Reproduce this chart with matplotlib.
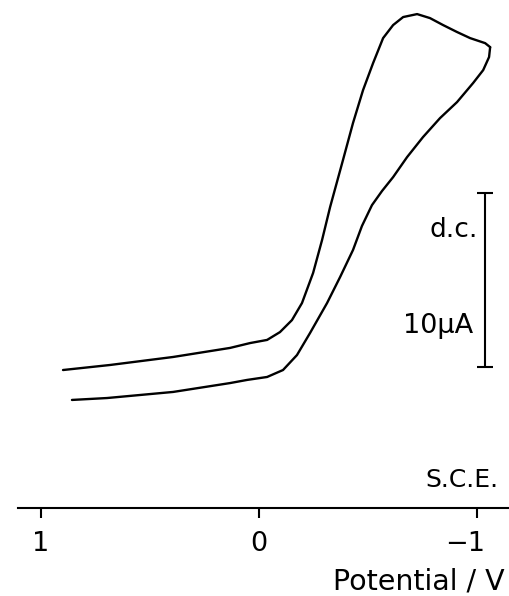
import matplotlib
matplotlib.use("Agg")
import matplotlib.pyplot as plt
import matplotlib.transforms as mtransforms

# cyclic voltammogram (d.c.), potential in V vs S.C.E., current in uA
fwd_potential = [0.899, 0.683, 0.394, 0.133, 0.041, -0.037, -0.096, -0.151,
                 -0.197, -0.248, -0.289, -0.326, -0.385, -0.431, -0.477,
                 -0.523, -0.569, -0.615, -0.661, -0.725, -0.784, -0.844,
                 -0.908, -0.968, -1.037, -1.060]
fwd_current = [7.93, 8.22, 8.68, 9.20, 9.48, 9.66, 10.11, 10.80,
               11.78, 13.51, 15.40, 17.30, 20.00, 22.13, 24.02,
               25.57, 27.01, 27.76, 28.22, 28.39, 28.16, 27.76,
               27.36, 27.01, 26.72, 26.49]

rev_potential = [-1.060, -1.055, -1.028, -0.982, -0.908, -0.830, -0.752,
                 -0.679, -0.615, -0.564, -0.518, -0.472, -0.431, -0.372,
                 -0.312, -0.234, -0.174, -0.110, -0.037, 0.055, 0.133,
                 0.394, 0.697, 0.858]
rev_current = [26.49, 25.92, 25.17, 24.43, 23.33, 22.41, 21.32,
               20.17, 19.02, 18.22, 17.41, 16.21, 14.83, 13.28,
               11.78, 10.06, 8.79, 7.93, 7.53, 7.36, 7.18,
               6.67, 6.32, 6.21]

tick_values = [1, 0, -1]
tick_labels = ["1", "0", "\u22121"]

scale_bar_x = -1.037
scale_bar_low = 8.13
scale_bar_high = 18.13

fig = plt.figure(figsize=(5.10, 5.96), dpi=100)
ax = fig.add_axes([0, 0, 1, 1])
ax.set_xlim(1.188, -1.151)
ax.set_ylim(-5.06, 29.2)

lw = 1.7
ax.plot(fwd_potential, fwd_current, color="black", lw=lw,
        solid_capstyle="round", solid_joinstyle="round")
ax.plot(rev_potential, rev_current, color="black", lw=lw,
        solid_capstyle="round", solid_joinstyle="round")

# vertical current scale bar
mid = (scale_bar_low + scale_bar_high) / 2
ax.errorbar([scale_bar_x], [mid], yerr=[(scale_bar_high - scale_bar_low) / 2],
            fmt="none", ecolor="black", elinewidth=1.5, capsize=5.5, capthick=1.5)
ax.text(-1.005, 15.57, "d.c.", ha="right", va="baseline", fontsize=19)
ax.text(-0.982, 10.06, "10\u00b5A", ha="right", va="baseline", fontsize=19.5)

# potential axis drawn as the bottom spine at zero current
for side in ["top", "right", "left"]:
    ax.spines[side].set_visible(False)
ax.spines["bottom"].set_position(("data", 0))
ax.spines["bottom"].set_bounds(1.106, -1.142)
ax.spines["bottom"].set_linewidth(1.5)
ax.set_yticks([])
ax.set_xticks(tick_values)
ax.set_xticklabels(tick_labels, fontsize=19.5)
ax.tick_params(axis="x", direction="out", length=7.5, width=1.5, pad=9)
shift = mtransforms.ScaledTranslation(-12 / 100, 0, fig.dpi_scale_trans)
lbl = ax.get_xticklabels()[2]
lbl.set_transform(lbl.get_transform() + shift)

ax.text(-1.096, 1.21, "S.C.E.", ha="right", va="baseline", fontsize=18)
fig.text(505 / 510, 6 / 596, "Potential / V", ha="right", va="baseline",
         fontsize=20.5)

fig.savefig("out.png", dpi=100)
